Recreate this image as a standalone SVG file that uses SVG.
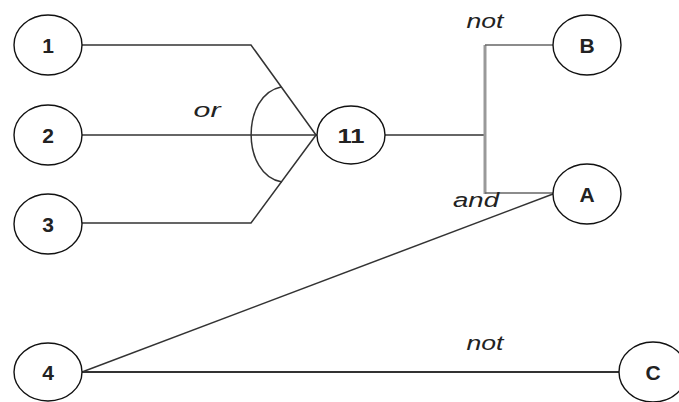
<svg xmlns="http://www.w3.org/2000/svg" width="679" height="402" viewBox="0 0 679 402">
<style>
.node ellipse{fill:#fff;stroke:#111;stroke-width:1.4}
.node text{font-family:"Liberation Sans",Arial,sans-serif;font-weight:bold;font-size:21px;fill:#222;text-anchor:middle}
.lbl{font-family:"Liberation Sans",Arial,sans-serif;font-style:italic;font-size:20px;fill:#222;text-anchor:middle}
.c{fill:none;stroke:#333;stroke-width:1.5}
.g{fill:none;stroke:#666;stroke-width:1.5}
.v{fill:none;stroke:#999;stroke-width:3}
</style>
<rect width="679" height="402" fill="#fff"/>
<g id="connectors">
<polyline class="c" points="82,45 251,45 316,135"/>
<line class="c" x1="82" y1="135" x2="317" y2="135"/>
<polyline class="c" points="82,223 251,223 316,135"/>
<path class="c" d="M281,87 C241,95 241,175 282,182"/>
<line class="c" x1="385" y1="135" x2="485" y2="135"/>
<line class="v" x1="485" y1="45" x2="485" y2="194"/>
<line class="g" x1="485" y1="45" x2="553" y2="45"/>
<line class="g" x1="485" y1="193" x2="553" y2="193"/>
<line class="c" x1="553" y1="194" x2="82" y2="372"/>
<line class="c" x1="82" y1="372" x2="619" y2="372" style="stroke-width:2.2"/>
<text class="lbl" x="207" y="117" textLength="27" lengthAdjust="spacingAndGlyphs">or</text>
<text class="lbl" x="485" y="28" textLength="37" lengthAdjust="spacingAndGlyphs">not</text>
<text class="lbl" x="476" y="207" textLength="46" lengthAdjust="spacingAndGlyphs">and</text>
<text class="lbl" x="485" y="350" textLength="37" lengthAdjust="spacingAndGlyphs">not</text>
</g>
<g id="n1" class="node"><ellipse cx="48" cy="45" rx="34" ry="30"/><text x="48" y="53">1</text></g>
<g id="n2" class="node"><ellipse cx="48" cy="135" rx="34" ry="30"/><text x="48" y="143">2</text></g>
<g id="n3" class="node"><ellipse cx="48" cy="224" rx="34" ry="30"/><text x="48" y="232">3</text></g>
<g id="n11" class="node"><ellipse cx="351" cy="135" rx="34" ry="29"/><text x="351" y="143" textLength="27" lengthAdjust="spacingAndGlyphs">11</text></g>
<g id="nB" class="node"><ellipse cx="587" cy="45" rx="34" ry="30"/><text x="587" y="53">B</text></g>
<g id="nA" class="node"><ellipse cx="587" cy="194" rx="34" ry="30"/><text x="587" y="202">A</text></g>
<g id="n4" class="node"><ellipse cx="48" cy="372" rx="34" ry="29"/><text x="48" y="380">4</text></g>
<g id="nC" class="node"><ellipse cx="653" cy="372" rx="34" ry="30"/><text x="653" y="380">C</text></g>
</svg>
